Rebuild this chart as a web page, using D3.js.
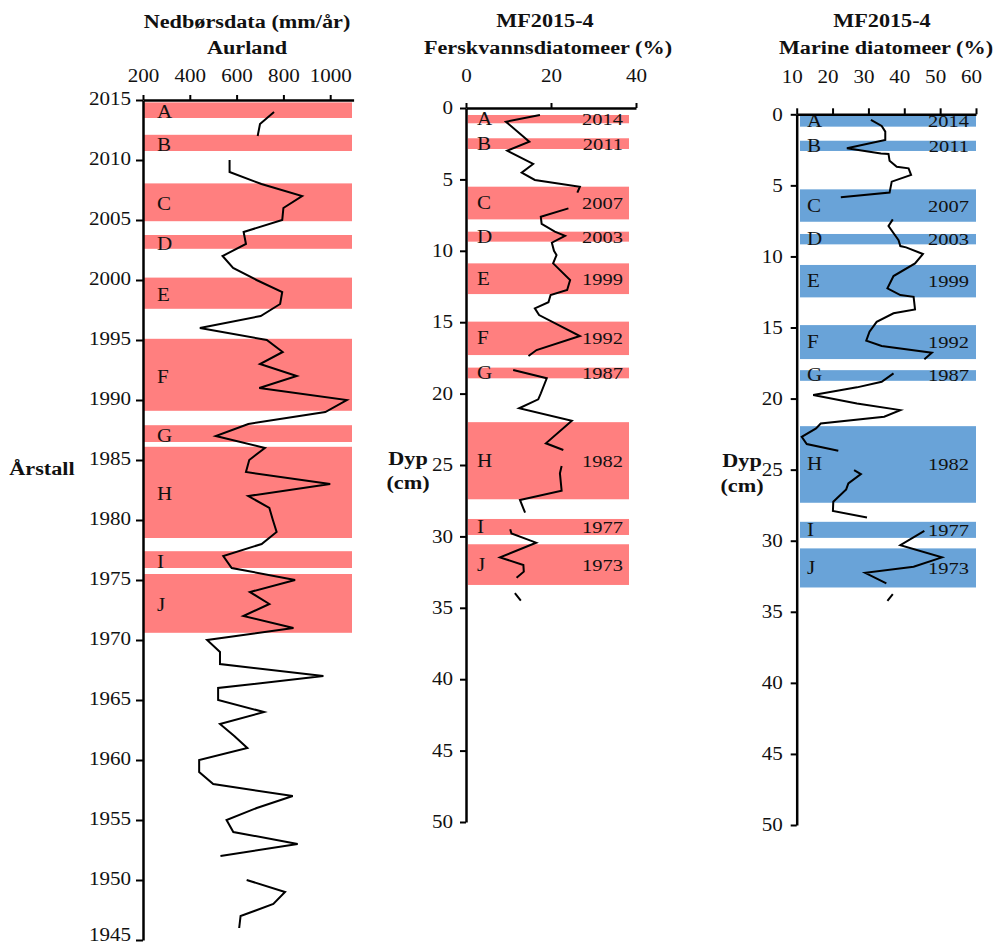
<!DOCTYPE html>
<html>
<head>
<meta charset="utf-8">
<script src="https://cdn.jsdelivr.net/npm/d3@7"></script>
<style>
  body { margin: 0; background: #fff; }
  text { font-family: "Liberation Serif", "Times New Roman", serif; fill: #111; }
</style>
</head>
<body>
<div id="chart"></div>
<script>
// ---- data ----
var bandLetters = ["A","B","C","D","E","F","G","H","I","J"];
var bandYears   = [2014, 2011, 2007, 2003, 1999, 1992, 1987, 1982, 1977, 1973];

// precipitation panel: bands in calendar years [top, bottom]
var yearBands = [[2014.8,2013.5],[2012.1,2010.75],[2008.05,2004.9],[2003.75,2002.6],[2000.2,1997.6],
                 [1995.1,1989.1],[1987.9,1986.5],[1986.1,1978.5],[1977.4,1976.0],[1975.5,1970.6]];
// core panels: bands in depth (cm) [top, bottom]
var freshBands  = [[0.49,1.07],[2.12,2.87],[5.51,7.8],[8.66,9.36],[10.88,13.03],
                   [14.96,17.3],[18.18,18.93],[22.0,27.4],[28.78,29.9],[30.55,33.4]];
var marineBands = [[0.12,0.87],[1.86,2.58],[5.28,7.56],[8.42,9.15],[10.6,12.88],
                   [14.83,17.22],[18.0,18.75],[21.94,27.33],[28.67,29.8],[30.54,33.29]];

// Aurland precipitation (mm/yr), null = missing year
var precipYears = [2014,2013,2012,2011,2010,2009,2008,2007,2006,2005,2004,2003,2002,2001,2000,
                   1999,1998,1997,1996,1995,1994,1993,1992,1991,1990,1989,1988,1987,1986,1985,
                   1984,1983,1982,1981,1980,1979,1978,1977,1976,1975,1974,1973,1972,1971,1970,
                   1969,1968,1967,1966,1965,1964,1963,1962,1961,1960,1959,1958,1957,1956,1955,
                   1954,1953,1952,1951,1950,1949,1948,1947,1946];
var precip = [760,700,690,null,570,570,706,880,800,795,630,640,540,585,685,
              795,786,703,443,729,797,700,857,697,1071,979,650,511,721,654,
              640,1000,650,740,755,771,707,543,579,850,657,740,629,843,474,
              529,529,971,521,521,717,529,590,646,440,440,500,840,686,557,
              586,861,531,null,643,807,757,617,611];

// MF2015-4 freshwater diatoms (%), null = break in the line
var freshDepth = [0.49,0.96,2.36,2.99,3.92,4.53,5.04,5.51,5.93,null,
                  7.03,7.61,8.12,8.66,8.96,9.43,10.0,10.3,10.88,12.04,12.74,13.1,13.6,14.03,14.5,15.97,16.95,17.37,null,
                  18.35,18.93,19.98,20.4,21.03,21.9,23.48,23.95,null,
                  25.07,25.58,26.8,27.45,28.34,null,
                  29.5,29.8,30.44,31.47,32.0,32.47,32.9,null,
                  33.98,34.5];
var freshPct   = [17.4,9.4,14.9,9.7,15.8,13.1,16.2,26.8,26.2,null,
                  24.1,17.6,17.8,20.9,23.3,20.2,20.7,21.3,20.5,24.5,23.8,19.9,19.4,16.2,17.2,26.8,16.6,14.7,null,
                  11.1,19.0,17.6,17.0,12.5,24.9,18.8,22.9,null,
                  22.5,22.1,22.5,12.7,13.9,null,
                  10.4,10.7,16.5,8.0,13.5,13.6,11.9,null,
                  11.5,12.9];

// MF2015-4 marine diatoms (%)
var marineDepth = [0.4,0.82,1.22,1.81,2.39,2.75,2.79,3.26,3.69,3.8,4.27,4.74,5.51,5.84,null,
                   7.39,7.86,8.85,9.27,9.36,9.83,10.49,11.38,12.25,12.72,12.84,13.73,14.0,14.6,15.3,15.93,16.3,16.78,17.24,null,
                   18.23,18.82,19.21,19.75,20.34,20.81,21.28,21.75,22.1,22.69,23.2,23.67,null,
                   25.03,25.31,25.97,26.39,27.26,27.9,28.36,null,
                   29.3,30.31,31.17,31.83,32.26,33.0,null,
                   33.76,34.23];
var marinePct   = [30.7,33.7,34.7,34.7,24.0,33.5,35.6,35.9,37.9,41.2,41.9,36.5,35.9,22.3,null,
                   36.8,35.6,38.4,38.9,40.5,45.2,43.0,37.0,35.3,38.9,42.6,43.0,37.0,32.3,30.3,29.4,33.7,47.7,45.6,null,
                   37.0,33.7,26.8,14.6,26.8,38.9,34.4,16.7,15.4,11.4,12.8,21.6,null,
                   26.0,27.9,24.4,23.8,20.2,20.1,29.6,null,
                   45.6,38.9,50.5,42.6,29.1,35.0,null,
                   36.8,35.3];

var precipTicks = [200,400,600,800,1000];
var yearTicks = [1945,1950,1955,1960,1965,1970,1975,1980,1985,1990,1995,2000,2005,2010,2015];
var freshTicks = [0,20,40];
var marineTicks = [10,20,30,40,50,60];
var depthTicks = [0,5,10,15,20,25,30,35,40,45,50];

// ---- drawing ----
var RED = "#ff7f7f", BLUE = "#69a3d8";
var SX = 1.17; // the picture's serif text is a little wider than normal

var svg = d3.select("#chart").append("svg")
  .attr("width", 996).attr("height", 947);

function label(x, y, txt, size, bold, anchor) {
  svg.append("text")
    .attr("transform", "translate(" + x + "," + y + ") scale(" + SX + ",1)")
    .attr("text-anchor", anchor || "middle")
    .style("font-size", size + "px")
    .style("font-weight", bold ? "bold" : "normal")
    .text(txt);
}

function styleAxis(g, dx) {
  g.select(".domain").attr("stroke", "#000").attr("stroke-width", 2.5);
  g.selectAll(".tick line").attr("stroke", "#000").attr("stroke-width", 2);
  g.selectAll(".tick text")
    .style("font-size", "18px")
    .attr("transform", "scale(" + SX + ",1)")
    .attr("x", function() { return ((+d3.select(this).attr("x") || 0) + (dx || 0)) / SX; });
}

function bands(list, y, x0, x1, color) {
  svg.append("g").selectAll("rect").data(list).join("rect")
    .attr("x", x0).attr("width", x1 - x0)
    .attr("y", function(d) { return y(d[0]); })
    .attr("height", function(d) { return y(d[1]) - y(d[0]); })
    .attr("fill", color);
}

function pairs(a, b) {
  return a.map(function(v, i) { return [v, b[i]]; });
}

// ===== left panel: precipitation =====
var px = d3.scaleLinear().domain([200, 1100]).range([143, 353.6]);
var py = d3.scaleLinear().domain([1945, 2015]).range([940, 100]);

svg.append("g").selectAll("rect").data(yearBands).join("rect")
  .attr("x", 144).attr("width", 208)
  .attr("y", function(d) { return py(d[0]); })
  .attr("height", function(d) { return py(d[1]) - py(d[0]); })
  .attr("fill", RED);

yearBands.forEach(function(b, i) {
  label(157, (py(b[0]) + py(b[1])) / 2 + 8, bandLetters[i], 18, false, "start");
});

svg.append("path")
  .datum(pairs(precipYears, precip))
  .attr("fill", "none").attr("stroke", "#000").attr("stroke-width", 2)
  .attr("d", d3.line().defined(function(d) { return d[1] != null; })
    .x(function(d) { return px(d[1]); }).y(function(d) { return py(d[0]); }));

var pTop = svg.append("g").attr("transform", "translate(0,100)")
  .call(d3.axisTop(px).tickValues(precipTicks).tickFormat(d3.format("d")).tickSize(5).tickSizeOuter(0).tickPadding(13));
styleAxis(pTop);
var pLeft = svg.append("g").attr("transform", "translate(143,0)")
  .call(d3.axisLeft(py).tickValues(yearTicks).tickFormat(d3.format("d")).tickSize(7).tickSizeOuter(0).tickPadding(5));
styleAxis(pLeft);
pLeft.selectAll(".tick text").attr("dy", function(d) { return d === 1945 ? "0.05em" : "0.25em"; });

label(247, 28, "Nedbørsdata (mm/år)", 19, true);
label(247, 54, "Aurland", 19, true);
label(42, 475, "Årstall", 19, true);

// ===== middle panel: freshwater diatoms =====
var fx = d3.scaleLinear().domain([0, 40]).range([466, 636]);
var fy = d3.scaleLinear().domain([0, 50]).range([108, 822]);

bands(freshBands, fy, 468, 629, RED);
freshBands.forEach(function(b, i) {
  var cy = (fy(b[0]) + fy(b[1])) / 2 + 6;
  label(477, cy, bandLetters[i], 18, false, "start");
  label(623, cy, bandYears[i], 17.5, false, "end");
});

svg.append("path")
  .datum(pairs(freshDepth, freshPct))
  .attr("fill", "none").attr("stroke", "#000").attr("stroke-width", 2)
  .attr("d", d3.line().defined(function(d) { return d[1] != null; })
    .x(function(d) { return fx(d[1]); }).y(function(d) { return fy(d[0]); }));

var fTop = svg.append("g").attr("transform", "translate(0,108)")
  .call(d3.axisTop(fx).tickValues(freshTicks).tickSize(5).tickSizeOuter(0).tickPadding(21));
styleAxis(fTop);
var fLeft = svg.append("g").attr("transform", "translate(466,0)")
  .call(d3.axisLeft(fy).tickValues(depthTicks).tickSize(6).tickSizeOuter(0).tickPadding(7));
styleAxis(fLeft);

label(545, 27, "MF2015-4", 19, true);
label(548, 54, "Ferskvannsdiatomeer (%)", 19, true);
label(408, 465, "Dyp", 19, true);
label(408, 489, "(cm)", 19, true);

// ===== right panel: marine diatoms =====
var mx = d3.scaleLinear().domain([10, 60]).range([796.7, 976]);
var my = d3.scaleLinear().domain([0, 50]).range([114.3, 825]);

bands(marineBands, my, 800, 976, BLUE);
marineBands.forEach(function(b, i) {
  var cy = (my(b[0]) + my(b[1])) / 2 + 6;
  label(807, cy, bandLetters[i], 18, false, "start");
  label(969, cy, bandYears[i], 17.5, false, "end");
});

svg.append("path")
  .datum(pairs(marineDepth, marinePct))
  .attr("fill", "none").attr("stroke", "#000").attr("stroke-width", 2)
  .attr("d", d3.line().defined(function(d) { return d[1] != null; })
    .x(function(d) { return mx(d[1]); }).y(function(d) { return my(d[0]); }));

var mTop = svg.append("g").attr("transform", "translate(0,114.3)")
  .call(d3.axisTop(mx).tickValues(marineTicks).tickSize(6).tickSizeOuter(0).tickPadding(25));
styleAxis(mTop, -5);
var mLeft = svg.append("g").attr("transform", "translate(796.7,0)")
  .call(d3.axisLeft(my).tickValues(depthTicks).tickSize(6).tickSizeOuter(0).tickPadding(8));
styleAxis(mLeft);

label(882, 27, "MF2015-4", 19, true);
label(886, 54, "Marine diatomeer (%)", 19, true);
label(742, 467, "Dyp", 19, true);
label(742, 492, "(cm)", 19, true);
</script>
</body>
</html>
